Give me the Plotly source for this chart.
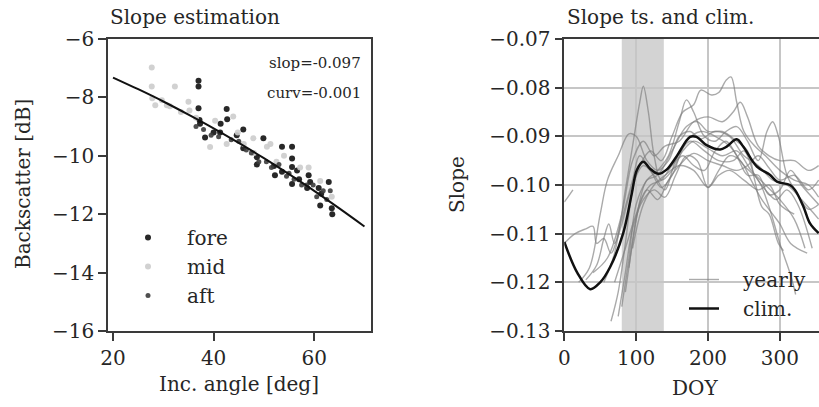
import plotly.graph_objects as go

# ---------------- Left panel data ----------------
fore_x = [37.0, 37.0, 37.0, 37.2, 37.3, 38.3, 40.0, 41.3, 41.4, 42.6, 42.7, 44.6, 45.9, 45.9, 48.6, 48.6, 49.9,
          52.0, 52.2, 53.6, 53.6, 55.6, 55.6, 55.6, 55.6, 56.6, 57.0, 58.6, 58.9, 59.2, 60.9, 61.2, 61.4, 62.9,
          63.5, 63.6]
fore_y = [-7.43, -7.63, -8.37, -8.77, -8.9, -9.37, -9.2, -9.2, -8.9, -8.4, -8.75, -9.3, -9.1, -9.74, -10.3,
          -10.05, -9.4, -10.35, -10.67, -10.55, -9.69, -9.69, -10.09, -10.38, -10.97, -10.5, -10.8, -11.1,
          -10.67, -10.9, -11.1, -11.7, -11.3, -10.9, -11.8, -12.0]

mid_x = [27.7, 27.7, 27.8, 28.4, 29.7, 30.7, 31.3, 32.3, 35.0, 35.2, 39.3, 40.3, 42.6, 43.9, 44.8, 46.0, 47.9,
         48.0, 50.6, 51.3, 52.5, 54.0, 57.2, 58.9, 61.2, 63.5, 33.5, 36.5]
mid_y = [-6.98, -7.63, -8.03, -8.27, -8.1, -8.27, -8.3, -7.63, -8.15, -8.45, -9.7, -8.8, -9.6, -8.65, -9.2,
         -9.6, -9.4, -9.9, -9.69, -9.6, -10.2, -10.0, -10.4, -10.4, -10.86, -11.4, -8.5, -8.7]

aft_x = [36.5, 38.0, 39.5, 41.0, 43.5, 45.0, 46.5, 47.5, 50.5, 51.5, 53.0, 54.5, 56.0, 57.5, 58.5, 59.8, 60.5,
         61.8, 62.5, 63.2, 55.0, 49.0]
aft_y = [-9.0, -9.1, -9.3, -9.35, -9.45, -9.5, -9.8, -9.9, -10.2, -10.4, -10.3, -10.7, -10.8, -11.0, -11.0,
         -11.0, -11.4, -11.2, -11.5, -11.2, -10.6, -10.2]

fit_x = [20, 25, 30, 35, 40, 45, 50, 55, 60, 65, 70]
fit_y = [-7.32, -7.72, -8.14, -8.59, -9.06, -9.56, -10.08, -10.63, -11.20, -11.80, -12.42]

slope_txt = "slop=-0.097"
curv_txt = "curv=-0.001"

# ---------------- Right panel data ----------------
yearly = [
    ([55, 70, 85, 95, 105, 110, 117, 125, 135, 150, 165, 180, 200, 220, 240, 260, 280, 300, 320, 335],
     [-0.120, -0.114, -0.101, -0.092, -0.083, -0.0797, -0.085, -0.094, -0.099, -0.097, -0.093, -0.091, -0.0925,
      -0.094, -0.093, -0.097, -0.100, -0.103, -0.107, -0.113]),
    ([65, 75, 85, 95, 105, 120, 135, 150, 165, 180, 190, 205, 215, 225, 232, 240, 250, 265, 280, 300, 320, 340, 354],
     [-0.128, -0.122, -0.112, -0.101, -0.096, -0.093, -0.095, -0.090, -0.085, -0.0835, -0.0805, -0.0815, -0.081,
      -0.0785, -0.0778, -0.083, -0.089, -0.092, -0.094, -0.097, -0.099, -0.100, -0.1025]),
    ([80, 90, 100, 115, 130, 145, 160, 170, 180, 195, 210, 225, 240, 255, 270, 282, 290, 298, 310, 325, 340, 354],
     [-0.125, -0.115, -0.104, -0.099, -0.097, -0.094, -0.087, -0.0825, -0.085, -0.090, -0.091, -0.089, -0.088,
      -0.091, -0.095, -0.089, -0.087, -0.090, -0.098, -0.102, -0.105, -0.104]),
    ([40, 60, 80, 95, 110, 125, 140, 160, 180, 200, 220, 235, 245, 255, 270, 285, 300, 320, 340, 354],
     [-0.118, -0.115, -0.106, -0.095, -0.091, -0.094, -0.092, -0.091, -0.087, -0.086, -0.087, -0.085, -0.0830,
      -0.086, -0.092, -0.094, -0.095, -0.095, -0.097, -0.096]),
    ([0, 15, 30, 40, 45, 55, 65, 80, 95, 105, 120, 135, 150, 170, 190, 210, 230, 250, 270, 285, 300, 315, 322],
     [-0.112, -0.110, -0.109, -0.1085, -0.112, -0.111, -0.114, -0.107, -0.099, -0.094, -0.097, -0.1005, -0.098,
      -0.091, -0.089, -0.090, -0.092, -0.096, -0.099, -0.1045, -0.112, -0.1185, -0.1225]),
    ([75, 85, 95, 110, 125, 140, 155, 170, 185, 200, 215, 230, 245, 260, 275, 290, 300, 315, 338],
     [-0.127, -0.118, -0.109, -0.103, -0.101, -0.1025, -0.098, -0.094, -0.095, -0.1005, -0.097, -0.094, -0.095,
      -0.099, -0.103, -0.106, -0.108, -0.112, -0.114]),
    ([85, 95, 105, 120, 135, 150, 165, 180, 195, 210, 225, 240, 255, 270, 285, 300, 315, 330, 354],
     [-0.122, -0.112, -0.104, -0.100, -0.099, -0.096, -0.094, -0.096, -0.097, -0.093, -0.091, -0.094, -0.098,
      -0.098, -0.102, -0.101, -0.097, -0.100, -0.104]),
    ([20, 35, 50, 60, 75, 90, 100, 115, 130, 145, 160, 175, 190, 210, 230, 250, 270, 290, 310, 330, 354],
     [-0.120, -0.117, -0.106, -0.099, -0.094, -0.0895, -0.090, -0.095, -0.097, -0.095, -0.090, -0.089, -0.0905,
      -0.089, -0.090, -0.094, -0.096, -0.099, -0.100, -0.103, -0.107]),
    ([0, 5, 12],
     [-0.1035, -0.1025, -0.101]),
    ([30, 45, 55, 62, 70, 80, 95, 110, 125, 140, 155, 175, 195, 215, 235, 250, 265, 280, 295, 310, 325, 345],
     [-0.1195, -0.1165, -0.111, -0.108, -0.112, -0.108, -0.100, -0.096, -0.098, -0.101, -0.095, -0.091, -0.093,
      -0.095, -0.095, -0.093, -0.098, -0.101, -0.103, -0.101, -0.104, -0.113]),
    ([90, 100, 115, 130, 150, 170, 185, 200, 220, 240, 255, 265, 275, 285, 298, 305],
     [-0.117, -0.107, -0.099, -0.098, -0.093, -0.088, -0.087, -0.089, -0.089, -0.091, -0.093, -0.099, -0.1045,
      -0.106, -0.112, -0.1135]),
    ([70, 85, 100, 115, 130, 145, 160, 180, 200, 220, 240, 255, 270, 285, 300, 320, 340, 354],
     [-0.120, -0.113, -0.106, -0.101, -0.103, -0.099, -0.096, -0.0935, -0.095, -0.096, -0.097, -0.096, -0.094,
      -0.0965, -0.099, -0.098, -0.101, -0.099]),
    ([95, 110, 125, 140, 160, 180, 200, 215, 230, 250, 270, 285, 300, 320],
     [-0.113, -0.104, -0.100, -0.098, -0.096, -0.097, -0.1005, -0.098, -0.097, -0.099, -0.101, -0.100, -0.104,
      -0.106]),
]

clim_x = [0, 18, 36, 50, 64, 82, 94, 101, 110, 119, 131, 142, 156, 175, 184, 198, 217, 226, 240, 249, 268, 286,
          296, 314, 321, 333, 342, 354]
clim_y = [-0.1117, -0.1180, -0.1214, -0.1200, -0.1168, -0.1099, -0.1017, -0.0969, -0.0952, -0.0966, -0.0977,
          -0.0969, -0.0942, -0.0901, -0.0901, -0.0918, -0.0927, -0.0921, -0.0906, -0.0921, -0.0962, -0.0979,
          -0.0993, -0.1000, -0.1010, -0.1045, -0.1079, -0.1099]

band = [80, 138.5]

# ---------------- Figure ----------------
W, H = 819, 407
FONT = "DejaVu Serif"
TXT = "#262626"
AX = "#3a3a3a"

fig = go.Figure()

fig.add_trace(go.Scatter(x=fore_x, y=fore_y, mode="markers", name="\u00a0\u00a0\u00a0fore",
                         marker=dict(size=6, color="#111111", opacity=0.9), xaxis="x", yaxis="y",
                         legend="legend"))
fig.add_trace(go.Scatter(x=mid_x, y=mid_y, mode="markers", name="\u00a0\u00a0\u00a0mid",
                         marker=dict(size=6, color="#cccccc", opacity=0.9), xaxis="x", yaxis="y",
                         legend="legend"))
fig.add_trace(go.Scatter(x=aft_x, y=aft_y, mode="markers", name="\u00a0\u00a0\u00a0aft",
                         marker=dict(size=5, color="#3c3c3c", opacity=0.9), xaxis="x", yaxis="y",
                         legend="legend"))
fig.add_trace(go.Scatter(x=fit_x, y=fit_y, mode="lines", line=dict(color="#111111", width=2),
                         line_shape="spline", showlegend=False, xaxis="x", yaxis="y"))

for i, (xs, ys) in enumerate(yearly):
    fig.add_trace(go.Scatter(x=xs, y=ys, mode="lines", name="\u00a0\u00a0\u00a0yearly",
                             line=dict(color="rgba(125,125,125,0.65)", width=1.4), line_shape="spline",
                             showlegend=(i == 0), xaxis="x2", yaxis="y2", legend="legend2"))
fig.add_trace(go.Scatter(x=clim_x, y=clim_y, mode="lines", name="\u00a0\u00a0\u00a0clim.",
                         line=dict(color="#111111", width=2.5), line_shape="spline",
                         xaxis="x2", yaxis="y2", legend="legend2"))

ydom = [1 - 331 / H, 1 - 39 / H]
axis_common = dict(showline=True, linecolor=AX, linewidth=1.5, ticks="outside", ticklen=8, tickwidth=1.5,
                   tickcolor=AX, zeroline=False, tickfont=dict(family=FONT, size=20, color=TXT))

fig.update_layout(
    width=W, height=H, margin=dict(l=0, r=0, t=0, b=0),
    paper_bgcolor="white", plot_bgcolor="white", template="none",
    font=dict(family=FONT, size=20, color=TXT),
    xaxis=dict(domain=[108 / W, 371 / W], range=[19, 71.3], tickvals=[20, 40, 60], mirror=True,
               showgrid=False, anchor="y", **axis_common),
    yaxis=dict(domain=ydom, range=[-16, -6], tickvals=[-16, -14, -12, -10, -8, -6], mirror=True,
               showgrid=False, anchor="x", **axis_common),
    xaxis2=dict(domain=[564.3 / W, 1.0], range=[0, 354.5], tickvals=[0, 100, 200, 300], mirror=True,
                showgrid=True, gridcolor="#c6c6c6", gridwidth=1.5, anchor="y2", **axis_common),
    yaxis2=dict(domain=ydom, range=[-0.13, -0.07], tickvals=[-0.13, -0.12, -0.11, -0.10, -0.09, -0.08, -0.07],
                tickformat=".2f", mirror=False, showgrid=True, gridcolor="#c6c6c6", gridwidth=1.5,
                anchor="x2", **axis_common),
    legend=dict(x=128 / W, y=1 - 218 / H, xanchor="left", yanchor="top", bgcolor="rgba(0,0,0,0)",
                font=dict(family=FONT, size=20, color=TXT), tracegroupgap=0),
    legend2=dict(x=684 / W, y=1 - 260 / H, xanchor="left", yanchor="top", bgcolor="rgba(0,0,0,0)",
                 font=dict(family=FONT, size=20, color=TXT)),
    shapes=[dict(type="rect", xref="x2", yref="y2 domain", x0=band[0], x1=band[1], y0=0, y1=1,
                 fillcolor="#d3d3d3", line=dict(width=0), layer="below")],
)

def ann(text, px, py, xanchor="center", size=20, angle=0):
    fig.add_annotation(text=text, x=px / W, y=1 - py / H, xref="paper", yref="paper", showarrow=False,
                       xanchor=xanchor, yanchor="middle", textangle=angle,
                       font=dict(family=FONT, size=size, color=TXT))

ann("Slope estimation", 108, 17, xanchor="left")
ann("Slope ts. and clim.", 565, 17, xanchor="left")
ann("Inc. angle [deg]", 239, 384)
ann("DOY", 695, 388)
ann("Backscatter [dB]", 23, 184, angle=-90)
ann("Slope", 457, 185, angle=-90)
ann(slope_txt, 363, 63, xanchor="right", size=15)
ann(curv_txt, 363, 93, xanchor="right", size=15)

fig.write_html("out.html")
